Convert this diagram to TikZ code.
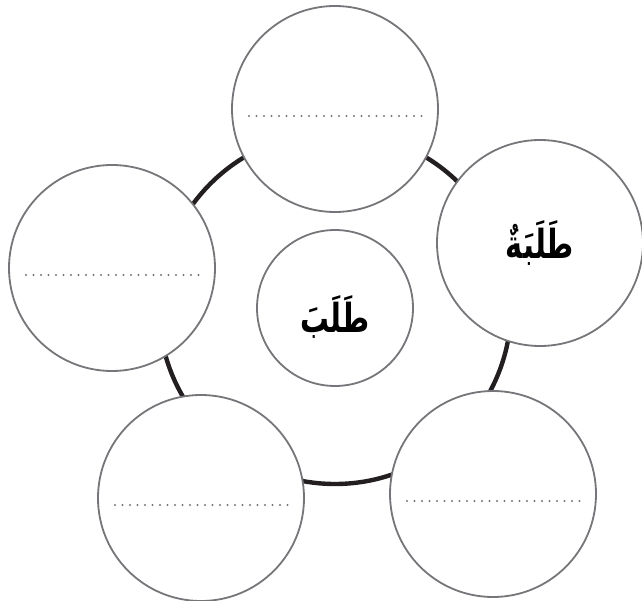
\documentclass[tikz,border=0pt]{standalone}
\usepackage{fontspec}
\newfontfamily\arabicfont[Script=Arabic]{DejaVu Sans}
\TeXXeTstate=1
\definecolor{rim}{RGB}{118,118,122}
\definecolor{ringc}{RGB}{35,31,32}
\begin{document}
\begin{tikzpicture}[x=1pt, y=1pt,
  bubble/.style={circle, draw=rim, line width=1.8pt, fill=white, inner sep=0pt, minimum size=206pt},
  word/.style={font=\arabicfont\bfseries\fontsize{32}{38}\selectfont, xscale=0.9, yscale=1.25, transform shape},
  ringline/.style={ringc, line width=4.4pt},
  dots/.style={rim, line width=2.2pt, line cap=round, dash pattern=on 0pt off 7.5pt}]
  \useasboundingbox (0,0) rectangle (642,600);
  \draw[ringline] (335,292) circle (176pt);
  \node[bubble, minimum size=156pt] (hub) at (335,292) {};
  \node[word] (hubword) at ([yshift=-9pt]hub.center) {\beginR طَلَبَ\endR};
  \node[bubble] (right) at (540,357) {};
  \node[word] (rightword) at (right.center) {\beginR طَلَبَةٌ\endR};
  \foreach \n/\x/\y in {top/335/491, left/112/332, botleft/201/102, botright/493/106} {
    \node[bubble] (\n) at (\x,\y) {};
    \draw[dots] ([shift={(-86,-7)}]\n.center) -- ++(173,0);
  }
\end{tikzpicture}
\end{document}
